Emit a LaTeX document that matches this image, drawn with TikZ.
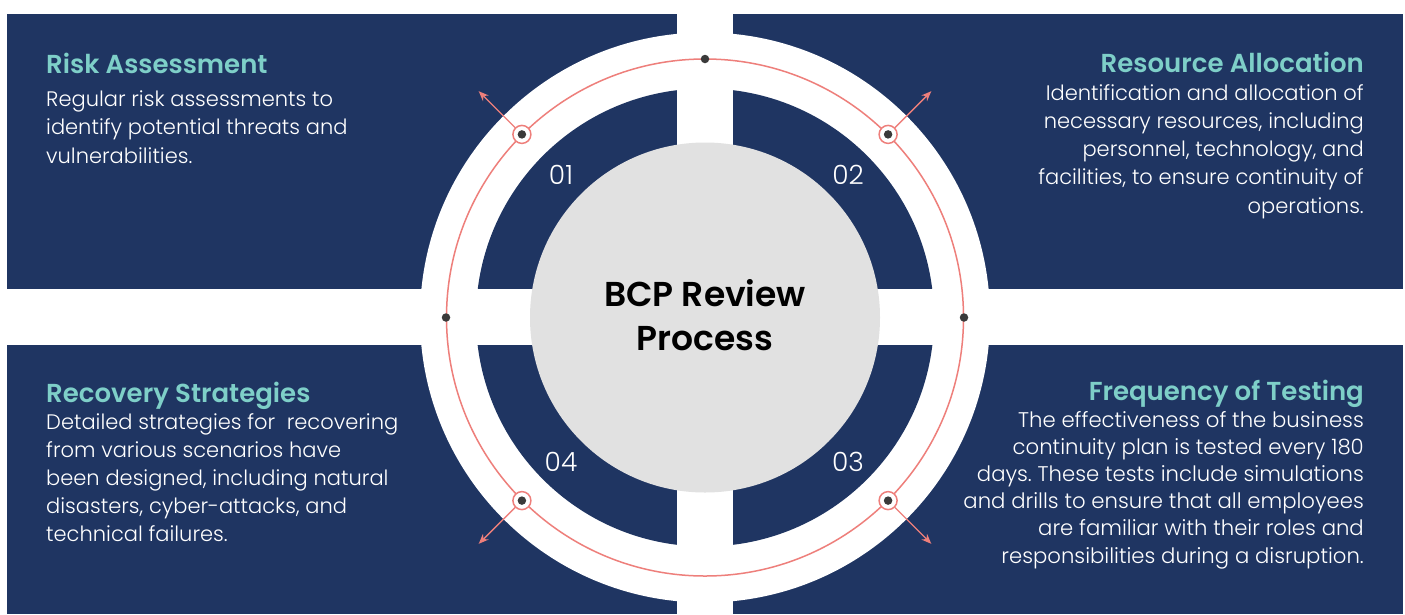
\documentclass[tikz,border=0pt]{standalone}
\usepackage{fontspec}
\setmainfont{Poppins}[UprightFont=* Light, BoldFont=* SemiBold]
\usetikzlibrary{arrows.meta}
\frenchspacing
\definecolor{navy}{HTML}{1F3562}
\definecolor{teal}{HTML}{7ECFC8}
\definecolor{ringred}{HTML}{EE7F7B}
\definecolor{disk}{HTML}{E1E1E1}
\definecolor{dotgray}{HTML}{3A3A3A}
\tikzset{
  panel/.style={fill=navy},
  marker/.style={circle,draw=ringred,line width=1.5pt,fill=white,minimum size=18pt,inner sep=0pt},
  pip/.style={circle,fill=dotgray,minimum size=8.5pt,inner sep=0pt},
  outarrow/.style={draw=ringred,line width=1.4pt,-{Stealth[length=10pt,width=8pt]}},
  numtxt/.style={text=white,font=\fontsize{26.5}{30}\selectfont},
  ttl/.style={text=teal,font=\fontsize{26}{30}\selectfont\bfseries,inner sep=0pt},
  body/.style={text=white,inner sep=0pt},
}
\begin{document}
\begin{tikzpicture}[x=1pt,y=-1pt]
\useasboundingbox (0,0) rectangle (1405,614);
\fill[white] (0,0) rectangle (1405,614);
% panels
\fill[panel] (7,14) rectangle (677,289);
\fill[panel] (733,14) rectangle (1403,289);
\fill[panel] (7,345) rectangle (677,614);
\fill[panel] (733,345) rectangle (1403,614);
% rings
\coordinate (C) at (705,317.5);
\fill[white] (C) circle[radius=285];
\fill[navy] (C) circle[radius=229];
\fill[white] (677,0) rectangle (733,614);
\fill[white] (0,289) rectangle (1405,345);
\node[circle,fill=disk,minimum size=350pt,inner sep=0pt] (hub) at (C) {};
\draw[ringred,line width=1.5pt] (C) circle[radius=258.5];
% cardinal dots
\node[pip] (pn) at (705,59) {};
\node[pip] (pw) at (446,317.5) {};
\node[pip] (pe) at (964,317.5) {};
% diagonal markers
\node[marker] (m1) at (521.9,134.4) {};
\node[marker] (m2) at (888.1,134.4) {};
\node[marker] (m3) at (888.1,500.6) {};
\node[marker] (m4) at (521.9,500.6) {};
\foreach \m in {m1,m2,m3,m4} \node[pip] at (\m) {};
\coordinate (a1) at (478.7,91.2);
\coordinate (a2) at (931.3,91.2);
\coordinate (a3) at (931.3,543.8);
\coordinate (a4) at (478.7,543.8);
\draw[outarrow] (m1) -- (a1);
\draw[outarrow] (m2) -- (a2);
\draw[outarrow] (m3) -- (a3);
\draw[outarrow] (m4) -- (a4);
% numbers
\node[numtxt] (n1) at (561,175) {01};
\node[numtxt] (n2) at (848,175) {02};
\node[numtxt] (n3) at (848,462) {03};
\node[numtxt] (n4) at (561,462) {04};
% centre (base anchor = last line baseline)
\node[align=center,font=\fontsize{34.5}{44}\selectfont\bfseries,text=black,inner sep=0pt,anchor=base] (ctr) at (705,350) {BCP Review\\Process};
% texts
\node[ttl,anchor=base west] (t1) at (46,73) {Risk Assessment};
\node[body,anchor=base west,align=left,font=\fontsize{21}{28.5}\selectfont] (b1) at (46,163) {Regular risk assessments to\\identify potential threats and\\vulnerabilities.};
\node[ttl,anchor=base east] (t2) at (1364,72) {Resource Allocation};
\node[body,anchor=base east,align=right,font=\fontsize{21}{28.25}\selectfont] (b2) at (1364,213) {Identification and allocation of\\necessary resources, including\\personnel, technology, and\\facilities, to ensure continuity of\\operations.};
\node[ttl,anchor=base west] (t4) at (46,402) {Recovery Strategies};
\node[body,anchor=base west,align=left,font=\fontsize{21}{28}\selectfont] (b4) at (46,541) {Detailed strategies for\ \ recovering\\from various scenarios have\\been designed, including natural\\disasters, cyber-attacks, and\\technical failures.};
\node[ttl,anchor=base east] (t3) at (1364,400) {Frequency of Testing};
\node[body,anchor=base east,align=right,font=\fontsize{21.2}{27.2}\selectfont] (b3) at (1364,563) {The effectiveness of the business\\continuity plan is tested every 180\\days. These tests include simulations\\and drills to ensure that all employees\\are familiar with their roles and\\responsibilities during a disruption.};
\end{tikzpicture}
\end{document}
